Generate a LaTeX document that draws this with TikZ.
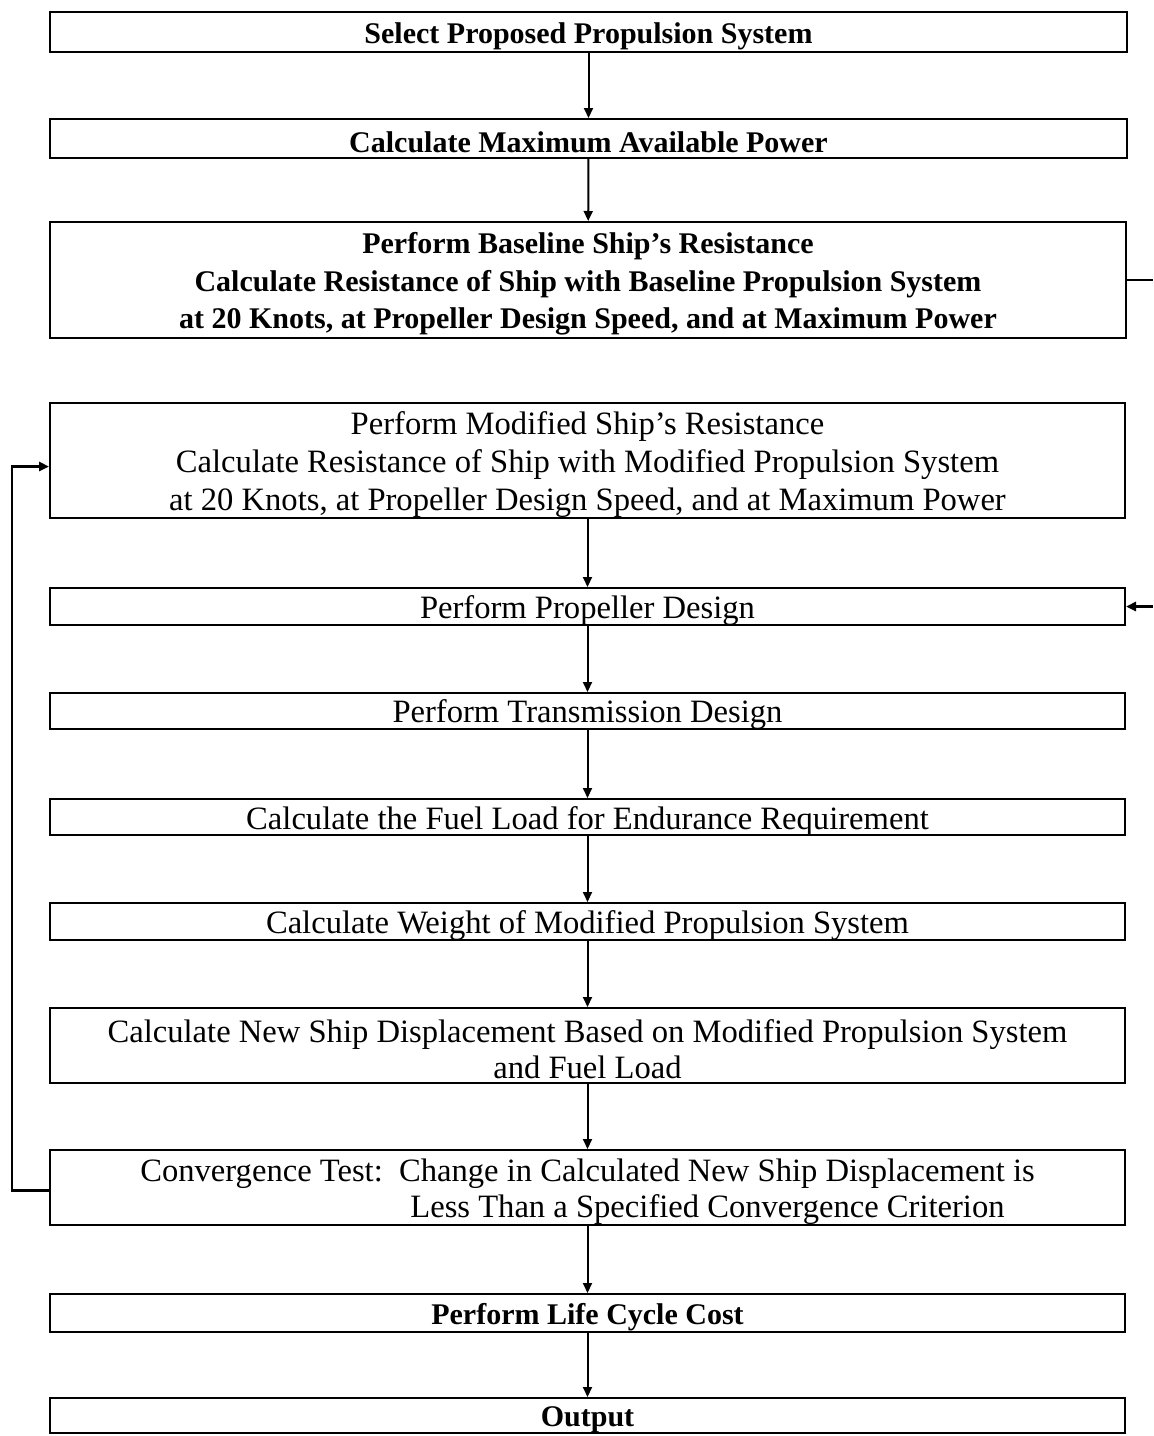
\documentclass[tikz,border=0pt]{standalone}
\usepackage{fontspec}
\setmainfont{Liberation Serif}
\usetikzlibrary{arrows.meta}
\begin{document}
\begin{tikzpicture}[x=0.5pt,y=-0.5pt,
  box/.style={draw, line width=1pt, rectangle, inner sep=0pt},
  txt/.style={align=center, inner sep=0pt, yshift=-2pt,
    font=\fontsize{16.3}{19}\selectfont},
  txttight/.style={txt, font=\fontsize{16.3}{18}\selectfont},
  btxt/.style={txt, font=\fontsize{15}{18.75}\selectfont\bfseries},
  conn/.style={line width=1pt, -{Triangle[length=5pt,width=4.5pt]}},
  fb/.style={line width=1.4pt},
  fba/.style={line width=1.4pt, -{Triangle[length=5pt,width=4.5pt]}}]
\useasboundingbox (0,0) rectangle (1153,1436);
\fill[white] (0,0) rectangle (1153,1436);

\node[box, minimum width=538.5pt, minimum height=20pt,
  label={[btxt, name=t1]center:Select Proposed Propulsion System}] (b1) at (588.5,32) {};
\node[box, minimum width=538.5pt, minimum height=19.5pt,
  label={[btxt, name=t2]center:Calculate Maximum Available Power}] (b2) at (588.5,138.5) {};
\node[box, minimum width=538pt, minimum height=58pt,
  label={[btxt, name=t3]center:{Perform Baseline Ship's Resistance\\
   Calculate Resistance of Ship with Baseline Propulsion System\\
   at 20 Knots, at Propeller Design Speed, and at Maximum Power}}] (b3) at (588,280) {};
\node[box, minimum width=537.5pt, minimum height=57.5pt,
  label={[txt, name=t4]center:{Perform Modified Ship's Resistance\\
   Calculate Resistance of Ship with Modified Propulsion System\\
   at 20 Knots, at Propeller Design Speed, and at Maximum Power}}] (b4) at (587.5,460.5) {};
\node[box, minimum width=537.5pt, minimum height=18.5pt,
  label={[txt, name=t5]center:Perform Propeller Design}] (b5) at (587.5,606.5) {};
\node[box, minimum width=537.5pt, minimum height=18pt,
  label={[txt, name=t6]center:Perform Transmission Design}] (b6) at (587.5,711) {};
\node[box, minimum width=537.5pt, minimum height=18pt,
  label={[txt, name=t7]center:Calculate the Fuel Load for Endurance Requirement}] (b7) at (587.5,817) {};
\node[box, minimum width=537.5pt, minimum height=18.5pt,
  label={[txt, name=t8]center:Calculate Weight of Modified Propulsion System}] (b8) at (587.5,921.5) {};
\node[box, minimum width=537.5pt, minimum height=37.5pt,
  label={[txttight, name=t9]center:{Calculate New Ship Displacement Based on Modified Propulsion System\\
   and Fuel Load}}] (b9) at (587.5,1045.5) {};
\node[box, minimum width=537.5pt, minimum height=37.5pt,
  label={[txttight, name=t10]center:{Convergence Test:\ \ Change in Calculated New Ship Displacement is\\
   \hspace*{120pt}Less Than a Specified Convergence Criterion}}] (b10) at (587.5,1187.5) {};
\node[box, minimum width=537.5pt, minimum height=19pt,
  label={[btxt, name=t11]center:Perform Life Cycle Cost}] (b11) at (587.5,1313) {};
\node[box, minimum width=537.5pt, minimum height=17.5pt,
  label={[btxt, name=t12]center:Output}] (b12) at (587.5,1415.5) {};

\draw[conn] (b1) -- (b2);
\draw[conn] (b2) -- (b3);
\draw[conn] (b4) -- (b5);
\draw[conn] (b5) -- (b6);
\draw[conn] (b6) -- (b7);
\draw[conn] (b7) -- (b8);
\draw[conn] (b8) -- (b9);
\draw[conn] (b9) -- (b10);
\draw[conn] (b10) -- (b11);
\draw[conn] (b11) -- (b12);

% feedback loop on the left
\coordinate (lx) at (12,0);
\draw[fba] ([yshift=-1.5pt]b10.west) -- ([yshift=-1.5pt]b10.west -| lx)
  |- ([yshift=-3pt]b4.west);

% right-hand lines leaving the picture
\coordinate (rx) at (1153,0);
\draw[fb] (b3.east) -- (b3.east -| rx);
\draw[fba] (b5.east -| rx) -- (b5.east);
\end{tikzpicture}
\end{document}
